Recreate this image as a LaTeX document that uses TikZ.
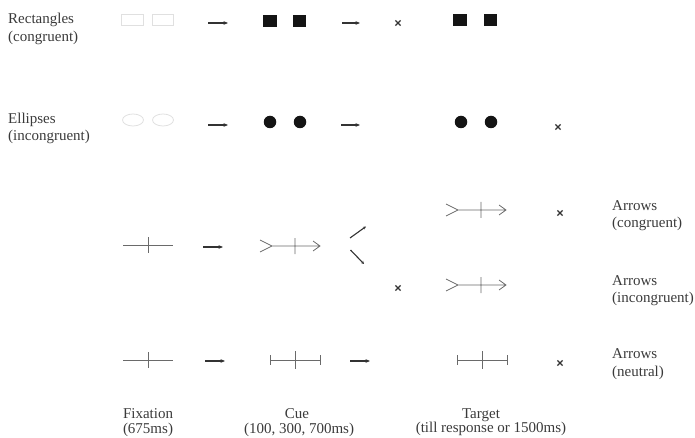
\documentclass[tikz,border=0pt]{standalone}
\usepackage{fontspec}
\setmainfont{Liberation Serif}
\usetikzlibrary{arrows.meta}
\definecolor{txt}{HTML}{3A3A3A}
\definecolor{ln}{HTML}{6A6A6A}
\definecolor{ar}{HTML}{333333}
\definecolor{faint}{HTML}{E0E0E0}
\definecolor{blk}{HTML}{141414}
\tikzset{
  lbl/.style={font=\fontsize{15}{17}\selectfont, text=txt, inner sep=0pt},
  stim/.style={draw=ln, line width=0.8pt},
  mv/.style={-{Stealth[length=4.5pt,width=3.6pt]}, line width=1.3pt, draw=ar},
  diag/.style={-{Stealth[length=3pt,width=3pt]}, line width=1.1pt, draw=ar},
  xmark/.pic={\draw[line width=1.2pt, draw=ar] (-2.6,-2.6)--(2.6,2.6) (-2.6,2.6)--(2.6,-2.6);},
  fixcross/.pic={\draw[stim] (-25,0)--(25,0) (0,-8)--(0,8);},
  arrowcue/.pic={\draw[stim] (-35,-6)--(-23,0)--(-35,6) (-23,0)--(25,0) (0,-8)--(0,8) (18,-5)--(25,0)--(18,5);},
  neutralcue/.pic={\draw[stim] (-25,0)--(25,0) (0,-9)--(0,9) (-25,-5)--(-25,5) (25,-5)--(25,5);},
  sq/.style={fill=blk, draw=none},
  dotc/.style={fill=blk, draw=none, circle, minimum size=12.5pt, inner sep=0pt},
  frect/.style={draw=faint, line width=0.8pt}
}
\begin{document}
\begin{tikzpicture}[x=1pt,y=-1pt]
\useasboundingbox (0,0) rectangle (695,438);
% ---------- left labels ----------
\node[lbl, anchor=base west] (l1a) at (8,24) {Rectangles};
\node[lbl, anchor=base west] (l1b) at (8,41.5) {(congruent)};
\node[lbl, anchor=base west] (l2a) at (8,124) {Ellipses};
\node[lbl, anchor=base west] (l2b) at (8,141) {(incongruent)};
% ---------- right labels ----------
\node[lbl, anchor=base west] (r1a) at (612,211) {Arrows};
\node[lbl, anchor=base west] (r1b) at (612,228) {(congruent)};
\node[lbl, anchor=base west] (r2a) at (612,285) {Arrows};
\node[lbl, anchor=base west] (r2b) at (612,302.5) {(incongruent)};
\node[lbl, anchor=base west] (r3a) at (612,358) {Arrows};
\node[lbl, anchor=base west] (r3b) at (612,376) {(neutral)};
% ---------- bottom labels ----------
\node[lbl, anchor=base] (b1a) at (148,418) {Fixation};
\node[lbl, anchor=base] (b1b) at (148,433) {(675ms)};
\node[lbl, anchor=base] (b2a) at (297,418) {Cue};
\node[lbl, anchor=base] (b2b) at (299,433) {(100, 300, 700ms)};
\node[lbl, anchor=base] (b3a) at (481,418) {Target};
\node[lbl, anchor=base] (b3b) at (491,432) {(till response or 1500ms)};
% ---------- row 1: rectangles ----------
\draw[frect] (121.5,14) rectangle (143,25.5);
\draw[frect] (152,14) rectangle (173.5,25.5);
\coordinate (a1s) at (208,23); \coordinate (a1e) at (228,23);
\draw[mv] (a1s) -- (a1e);
\fill[sq] (263,15) rectangle (276.5,27);
\fill[sq] (293,15) rectangle (306,27);
\coordinate (a2s) at (342,23); \coordinate (a2e) at (360,23);
\draw[mv] (a2s) -- (a2e);
\pic at (398,23) {xmark};
\fill[sq] (453,14) rectangle (467,26);
\fill[sq] (483.5,14) rectangle (497,26);
% ---------- row 2: ellipses ----------
\draw[frect] (133,120) ellipse [x radius=10.5, y radius=6];
\draw[frect] (163,120) ellipse [x radius=10.5, y radius=6];
\coordinate (a3s) at (208,125); \coordinate (a3e) at (228,125);
\draw[mv] (a3s) -- (a3e);
\node[dotc] (d1) at (270,122) {};
\node[dotc] (d2) at (300,122) {};
\coordinate (a4s) at (341,125); \coordinate (a4e) at (360,125);
\draw[mv] (a4s) -- (a4e);
\node[dotc] (d3) at (461,122) {};
\node[dotc] (d4) at (491,122) {};
\pic at (558,127) {xmark};
% ---------- row 3: arrows ----------
\pic at (148,245) {fixcross};
\coordinate (a5s) at (203,247); \coordinate (a5e) at (223,247);
\draw[mv] (a5s) -- (a5e);
\pic at (295,246) {arrowcue};
\coordinate (g1s) at (350,238); \coordinate (g1e) at (366,226.5);
\draw[diag] (g1s) -- (g1e);
\coordinate (g2s) at (350.5,250); \coordinate (g2e) at (364,264);
\draw[diag] (g2s) -- (g2e);
\pic at (481,210) {arrowcue};
\pic at (560,213) {xmark};
\pic at (398,288) {xmark};
\pic at (481,285) {arrowcue};
% ---------- row 4: neutral ----------
\pic at (148,360) {fixcross};
\coordinate (a6s) at (205,361); \coordinate (a6e) at (225,361);
\draw[mv] (a6s) -- (a6e);
\pic at (295,360) {neutralcue};
\coordinate (a7s) at (350,361); \coordinate (a7e) at (370,361);
\draw[mv] (a7s) -- (a7e);
\pic at (482,360) {neutralcue};
\pic at (560,363) {xmark};
\end{tikzpicture}
\end{document}
